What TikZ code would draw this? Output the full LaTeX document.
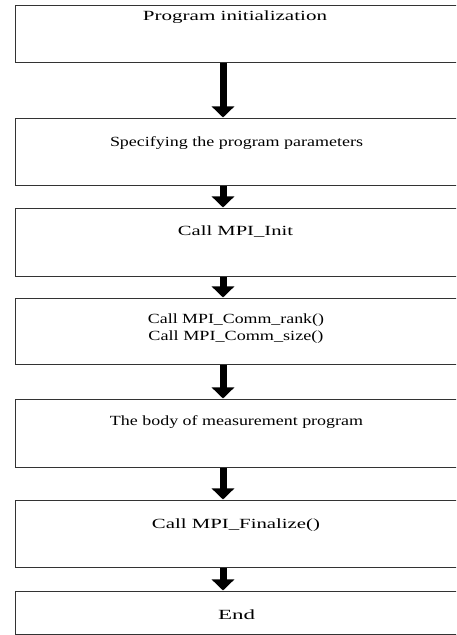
\documentclass[tikz,border=0pt]{standalone}
\usepackage{fontspec}
\usepackage{graphicx}
\setmainfont{Liberation Serif}
\usetikzlibrary{arrows.meta,calc}

% stretch a label horizontally to a given width, keeping its height
\newcommand{\fitw}[2]{\resizebox{#1}{\height}{#2}}

\tikzset{
  stepbox/.style={draw=black!80, line width=1.3pt, fill=white,
    minimum width=442pt, inner sep=0pt, anchor=north west},
  steptext/.style={font=\fontsize{14}{17}\selectfont, align=center,
    inner sep=0pt, anchor=center},
  flow/.style={line width=7pt, draw=black,
    -{Triangle[width=22pt,length=11pt]}, shorten >=0.5pt}
}

\begin{document}
\begin{tikzpicture}[x=1pt,y=1pt]
  \useasboundingbox (0,0) rectangle (456,635);
  \clip (0,0) rectangle (456,635);

  % x position of the flow arrows
  \coordinate (ax) at (223,0);

  % boxes (top edge y, height)
  \node[stepbox, minimum height=57pt] (b1) at (15,630) {};
  \node[stepbox, minimum height=67pt] (b2) at (15,517) {};
  \node[stepbox, minimum height=68pt] (b3) at (15,427) {};
  \node[stepbox, minimum height=66pt] (b4) at (15,337) {};
  \node[stepbox, minimum height=68pt] (b5) at (15,236) {};
  \node[stepbox, minimum height=67pt] (b6) at (15,135) {};
  \node[stepbox, minimum height=43pt] (b7) at (15,44) {};

  % labels
  \node[steptext] (t1) at (235,618) {\fitw{184pt}{Program initialization}};
  \node[steptext] (t2) at (236.5,492) {\fitw{253pt}{Specifying the program parameters}};
  \node[steptext] (t3) at (235.5,403) {\fitw{115pt}{Call MPI\_Init}};
  \node[steptext] (t4) at (236,306) {\fitw{176pt}{Call MPI\_Comm\_rank()}\\\fitw{175pt}{Call MPI\_Comm\_size()}};
  \node[steptext] (t5) at (236.5,213) {\fitw{253pt}{The body of measurement program}};
  \node[steptext] (t6) at (236,110) {\fitw{168pt}{Call MPI\_Finalize()}};
  \node[steptext] (t7) at (236.5,20) {\fitw{37pt}{End}};

  % connectors
  \draw[flow] (b1.south -| ax) -- (b2.north -| ax);
  \draw[flow] (b2.south -| ax) -- (b3.north -| ax);
  \draw[flow] (b3.south -| ax) -- (b4.north -| ax);
  \draw[flow] (b4.south -| ax) -- (b5.north -| ax);
  \draw[flow] (b5.south -| ax) -- (b6.north -| ax);
  \draw[flow] (b6.south -| ax) -- (b7.north -| ax);
\end{tikzpicture}
\end{document}
